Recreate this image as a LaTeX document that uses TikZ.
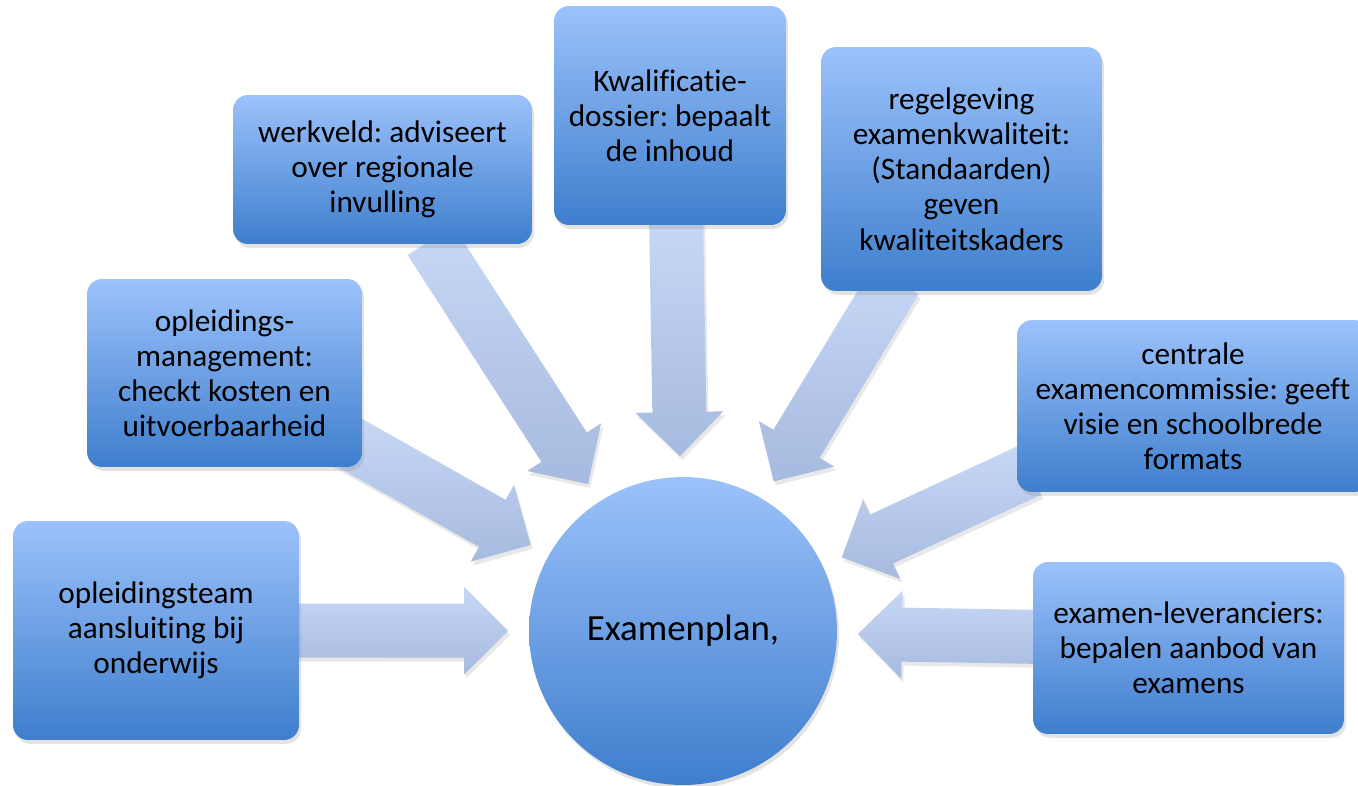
\documentclass[tikz,border=0pt]{standalone}
\usepackage{fontspec}
\setmainfont[Ligatures=NoCommon]{Carlito}
\usepackage{xcolor}
\usepackage{tikz}
\usetikzlibrary{calc,shadows}
\frenchspacing

\definecolor{boxtop}{RGB}{156,194,251}
\definecolor{boxbot}{RGB}{62,126,205}
\definecolor{arrtop}{RGB}{199,216,246}
\definecolor{arrbot}{RGB}{166,186,223}

\pgfdeclarelayer{background}
\pgfsetlayers{background,main}

\tikzset{
  boxnode/.style={rectangle, rounded corners=0.3cm, top color=boxtop, bottom color=boxbot,
    inner sep=0pt, align=center, font=\fontsize{17.8}{20}\selectfont,
    drop shadow={shadow xshift=1.2pt, shadow yshift=-2.2pt, opacity=0.22}},
  plannode/.style={circle, top color=boxtop, bottom color=boxbot, inner sep=0pt,
    font=\fontsize{21}{25}\selectfont,
    drop shadow={shadow xshift=1.2pt, shadow yshift=-2.2pt, opacity=0.22}},
  arrowbody/.style={top color=arrtop, bottom color=arrbot,
    drop shadow={shadow xshift=1.2pt, shadow yshift=-2.2pt, opacity=0.18}},
}

% block arrow from a point in a box towards the plan
\newcommand{\feedarrow}[1]{%
  \coordinate (tip) at ($(plan.center)!3.5cm!(#1)$);
  \coordinate (hb) at ($(tip)!0.88cm!(#1)$);
  \path[arrowbody] ($(#1)!0.54cm!90:(tip)$) -- ($(hb)!0.54cm!-90:(#1)$)
    -- ($(hb)!0.88cm!-90:(#1)$) -- (tip) -- ($(hb)!0.88cm!90:(#1)$)
    -- ($(hb)!0.54cm!90:(#1)$) -- ($(#1)!0.54cm!-90:(tip)$) -- cycle;
}

\begin{document}
\begin{tikzpicture}[x=0.02cm,y=-0.02cm]
\useasboundingbox (0,0) rectangle (1358,785);

% Centre
\node[plannode, minimum size=6.16cm] (plan) at (683,631) {Examenplan,};

% Parties
\node[boxnode, minimum width=5.72cm, minimum height=4.38cm] (team) at (156,630.5)
  {opleidingsteam\\aansluiting bij\\onderwijs};
\node[boxnode, minimum width=5.5cm, minimum height=3.76cm] (mgmt) at (224.5,373)
  {opleidings-\\management:\\checkt kosten en\\uitvoerbaarheid};
\node[boxnode, minimum width=5.98cm, minimum height=2.98cm] (werk) at (382.5,169.5)
  {werkveld: adviseert\\over regionale\\invulling};
\node[boxnode, minimum width=4.64cm, minimum height=4.38cm] (kwal) at (670,115.5)
  {Kwalificatie-\\dossier: bepaalt\\de inhoud};
\node[boxnode, minimum width=5.62cm, minimum height=4.88cm] (regel) at (961.5,169)
  {regelgeving\\examenkwaliteit:\\(Standaarden)\\geven\\kwaliteitskaders};
\node[boxnode, minimum width=7.04cm, minimum height=3.44cm] (centr) at (1193,406)
  {centrale\\examencommissie: geeft\\visie en schoolbrede\\formats};
\node[boxnode, minimum width=6.22cm, minimum height=3.44cm] (lever) at (1188.5,648)
  {examen-leveranciers:\\bepalen aanbod van\\examens};

% Arrow starts, under the boxes
\coordinate (s1) at ($(team.east)+(-20,0)$);
\coordinate (s2) at ($(mgmt.south east)+(-17,-27)$);
\coordinate (s3) at ($(werk.south)+(48,-4)$);
\coordinate (s4) at ($(kwal.south)+(6,-10)$);
\coordinate (s5) at ($(regel.south)+(-66,-11)$);
\coordinate (s6) at ($(centr.south west)+(13,-22)$);
\coordinate (s7) at ($(lever.west)+(12,-11)$);

\begin{pgfonlayer}{background}
\foreach \s in {s1,s2,s3,s4,s5,s6,s7} {\feedarrow{\s}}
\end{pgfonlayer}
\end{tikzpicture}
\end{document}
